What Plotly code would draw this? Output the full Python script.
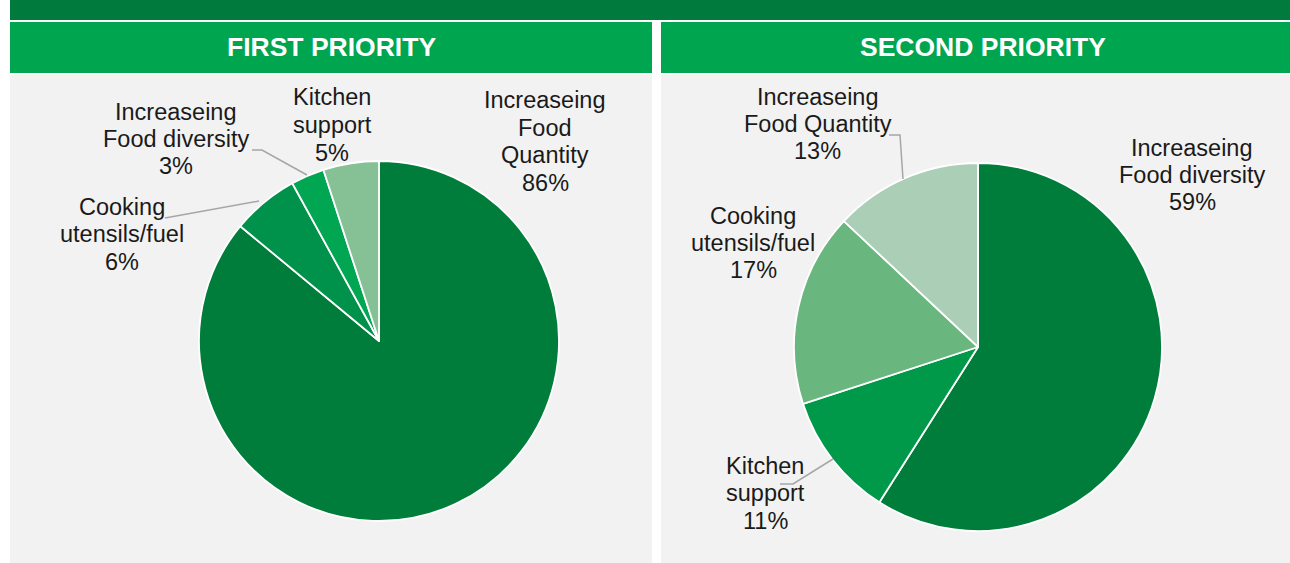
import plotly.graph_objects as go

W, H = 1290, 563

# ---- data ----
first_categories = ["Increaseing Food Quantity", "Cooking utensils/fuel",
                    "Increaseing Food diversity", "Kitchen support"]
first_values = [86, 6, 3, 5]
first_label_lines = [["Increaseing", "Food", "Quantity"], ["Cooking", "utensils/fuel"],
                     ["Increaseing", "Food diversity"], ["Kitchen", "support"]]

second_categories = ["Increaseing Food diversity", "Kitchen support",
                     "Cooking utensils/fuel", "Increaseing Food Quantity"]
second_values = [59, 11, 17, 13]
second_label_lines = [["Increaseing", "Food diversity"], ["Kitchen", "support"],
                      ["Cooking", "utensils/fuel"], ["Increaseing", "Food Quantity"]]

panel_titles = ["FIRST PRIORITY", "SECOND PRIORITY"]

first_colors = ["#007D3A", "#00924A", "#00A651", "#86C196"]
second_colors = ["#007D3A", "#00994A", "#69B67F", "#AACFB6"]


def px(x):
    return x / W


def py(y):
    return 1 - y / H


fig = go.Figure()

fig.add_trace(go.Pie(
    labels=first_categories, values=first_values, sort=False,
    direction="clockwise", rotation=0, textinfo="none", hoverinfo="label+percent",
    marker=dict(colors=first_colors, line=dict(color="white", width=1.8)),
    domain=dict(x=[px(199), px(559)], y=[py(521), py(161)]),
))
fig.add_trace(go.Pie(
    labels=second_categories, values=second_values, sort=False,
    direction="clockwise", rotation=0, textinfo="none", hoverinfo="label+percent",
    marker=dict(colors=second_colors, line=dict(color="white", width=1.8)),
    domain=dict(x=[px(794), px(1162)], y=[py(531), py(163)]),
))

shapes = []
# top dark bar
shapes.append(dict(type="rect", xref="paper", yref="paper", x0=px(10), x1=px(1290),
                   y0=py(20), y1=py(0), fillcolor="#007A3D", line=dict(width=0), layer="below"))
# panels
for x0, x1 in [(10, 652), (661, 1290)]:
    shapes.append(dict(type="rect", xref="paper", yref="paper", x0=px(x0), x1=px(x1),
                       y0=py(73), y1=py(22), fillcolor="#00A54F", line=dict(width=0), layer="below"))
    shapes.append(dict(type="rect", xref="paper", yref="paper", x0=px(x0), x1=px(x1),
                       y0=py(563), y1=py(75), fillcolor="#F2F2F2", line=dict(width=0), layer="below"))

# leader lines
leaders = [
    [(252, 150), (262, 150), (307, 175)],
    [(165, 218), (259, 201)],
    [(889, 135), (900, 135), (903, 179)],
    [(780, 484), (793, 484), (833, 459)],
]
for pts in leaders:
    path = "M " + " L ".join(f"{px(x)},{py(y)}" for x, y in pts)
    shapes.append(dict(type="path", xref="paper", yref="paper", path=path,
                       line=dict(color="#A6A6A6", width=1.5)))

annotations = []
for title, cx in zip(panel_titles, [331, 983]):
    annotations.append(dict(text=f"<b>{title}</b>", x=px(cx), y=py(47.5), xref="paper", yref="paper",
                            showarrow=False, xanchor="center", yanchor="middle",
                            font=dict(family="Liberation Sans, Arial", size=26.5, color="white")))

LINE_GAP = 27.5
first_pos = [(545, 141.5), (122, 234), (176, 139), (332, 125)]
second_pos = [(1192, 175), (765, 493), (753, 243), (818, 124)]
for lines_list, vals, pos in [(first_label_lines, first_values, first_pos),
                              (second_label_lines, second_values, second_pos)]:
    for lines, v, (x, yc) in zip(lines_list, vals, pos):
        all_lines = lines + [f"{v}%"]
        n = len(all_lines)
        for i, t in enumerate(all_lines):
            y = yc + (i - (n - 1) / 2) * LINE_GAP
            annotations.append(dict(text=t, x=px(x), y=py(y), xref="paper", yref="paper",
                                    showarrow=False, xanchor="center", yanchor="middle",
                                    font=dict(family="Liberation Sans, Arial", size=23.5,
                                              color="#1A1A1A")))

fig.update_layout(width=W, height=H, margin=dict(l=0, r=0, t=0, b=0),
                  paper_bgcolor="white", plot_bgcolor="white", showlegend=False,
                  shapes=shapes, annotations=annotations)

fig.write_html("out.html", config={"displayModeBar": False},
               post_script="document.body.style.margin='0px';")
